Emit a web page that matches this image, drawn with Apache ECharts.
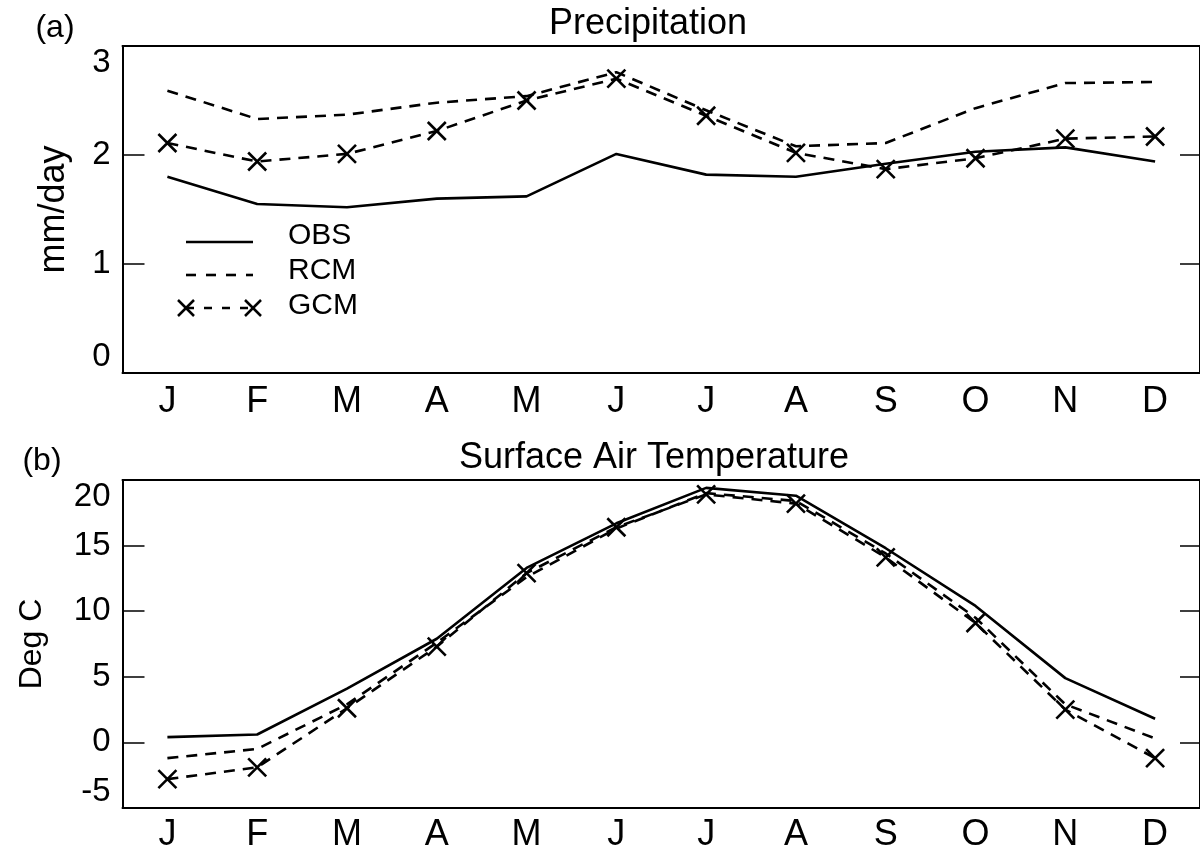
<!DOCTYPE html>
<html>
<head>
    <meta charset="utf-8">
    <title>Precipitation and Surface Air Temperature</title>
    <script src="https://cdn.jsdelivr.net/npm/echarts@6/dist/echarts.min.js"></script>
    <style>
        body { margin: 0; background: #fff; }
        #main { width: 1200px; height: 853px; }
    </style>
</head>
<body>
    <div id="main"></div>

<script type="text/javascript">

// months on the x axis
var months = ['Jan','Feb','Mar','Apr','May','Jun','Jul','Aug','Sep','Oct','Nov','Dec'];
var monthLetters = ['J','F','M','A','M','J','J','A','S','O','N','D'];

// (a) precipitation, mm/day
var precipObs = [1.80, 1.55, 1.52, 1.60, 1.62, 2.01, 1.82, 1.80, 1.92, 2.03, 2.07, 1.94];
var precipRcm = [2.59, 2.33, 2.37, 2.48, 2.54, 2.76, 2.41, 2.08, 2.11, 2.43, 2.66, 2.67];
var precipGcm = [2.11, 1.94, 2.01, 2.22, 2.50, 2.70, 2.36, 2.02, 1.87, 1.97, 2.15, 2.17];

// (b) surface air temperature, deg C
var tempObs = [0.4, 0.6, 4.1, 7.9, 13.3, 16.7, 19.4, 18.8, 14.8, 10.4, 4.9, 1.8];
var tempRcm = [-1.2, -0.5, 2.9, 7.6, 12.6, 16.3, 19.0, 18.4, 14.4, 9.5, 2.9, 0.3];
var tempGcm = [-2.8, -1.9, 2.6, 7.3, 12.9, 16.4, 18.9, 18.2, 14.1, 9.1, 2.5, -1.2];

// y axis ranges: [min, max, step]
var precipRange = [0, 3, 1];
var tempRange = [-5, 20, 5];

var FONT = 'Liberation Sans, Arial, Helvetica, sans-serif';
var crossMark = 'path://M0,0L10,10M10,0L0,10';

var myChart = echarts.init(document.getElementById('main'), null, {renderer: 'canvas'});

function xAxisPair(gridIndex, margin) {
    var base = {
        gridIndex: gridIndex,
        type: 'category',
        data: months,
        boundaryGap: true,
        axisLine: { onZero: false, lineStyle: { color: '#000', width: 2 } },
        axisTick: { inside: true, length: 7, alignWithLabel: true, lineStyle: { color: '#000', width: 1.5 } },
        splitLine: { show: false }
    };
    var bottom = Object.assign({}, base, {
        position: 'bottom',
        axisLabel: {
            color: '#000', fontSize: 36, fontFamily: FONT, margin: margin,
            formatter: function (v, i) { return monthLetters[i]; }
        }
    });
    var top = Object.assign({}, base, {
        position: 'top',
        axisLabel: { show: false }
    });
    return [bottom, top];
}

function yAxisPair(gridIndex, range, name, nameSize, nameGap) {
    var left = {
        gridIndex: gridIndex,
        type: 'value',
        position: 'left',
        min: range[0], max: range[1], interval: range[2],
        name: name,
        nameLocation: 'middle',
        nameGap: nameGap,
        nameTextStyle: { color: '#000', fontSize: nameSize, fontFamily: FONT },
        axisLine: { show: true, onZero: false, lineStyle: { color: '#000', width: 2 } },
        axisTick: { show: true, inside: true, length: 22, lineStyle: { color: '#000', width: 1.5 } },
        axisLabel: {
            color: '#000', fontSize: 33, fontFamily: FONT, margin: 12,
            verticalAlignMinLabel: 'bottom',
            verticalAlignMaxLabel: 'top'
        },
        splitLine: { show: false }
    };
    var right = {
        gridIndex: gridIndex,
        type: 'value',
        position: 'right',
        min: range[0], max: range[1], interval: range[2],
        axisLine: { show: true, onZero: false, lineStyle: { color: '#000', width: 2 } },
        axisTick: { show: true, inside: true, length: 20, lineStyle: { color: '#000', width: 1.5 } },
        axisLabel: { show: false },
        splitLine: { show: false }
    };
    return [left, right];
}

function threeLines(xi, yi, obs, rcm, gcm) {
    return [
        {
            name: 'OBS', type: 'line', xAxisIndex: xi, yAxisIndex: yi,
            data: obs, symbol: 'none',
            lineStyle: { color: '#000', width: 2.6, type: 'solid' }
        },
        {
            name: 'RCM', type: 'line', xAxisIndex: xi, yAxisIndex: yi,
            data: rcm, symbol: 'none',
            lineStyle: { color: '#000', width: 2.6, type: [11, 8] }
        },
        {
            name: 'GCM', type: 'line', xAxisIndex: xi, yAxisIndex: yi,
            data: gcm, symbol: crossMark, symbolSize: 18, showSymbol: true,
            itemStyle: { color: '#000', borderColor: '#000', borderWidth: 2.6 },
            lineStyle: { color: '#000', width: 2.6, type: [11, 8] }
        }
    ];
}

function crossGraphic(cx, cy, h) {
    return [
        { type: 'line', shape: { x1: cx - h, y1: cy - h, x2: cx + h, y2: cy + h }, style: { stroke: '#000', lineWidth: 2.5 } },
        { type: 'line', shape: { x1: cx + h, y1: cy - h, x2: cx - h, y2: cy + h }, style: { stroke: '#000', lineWidth: 2.5 } }
    ];
}

var legendGraphic = [
    { type: 'line', shape: { x1: 186, y1: 242, x2: 253, y2: 242 }, style: { stroke: '#000', lineWidth: 2.6 } },
    { type: 'line', shape: { x1: 186, y1: 275, x2: 253, y2: 275 }, style: { stroke: '#000', lineWidth: 2.6, lineDash: [10, 10] } },
    { type: 'line', shape: { x1: 186, y1: 308, x2: 253, y2: 308 }, style: { stroke: '#000', lineWidth: 2.6, lineDash: [8, 10] } },
    { type: 'text', x: 288, y: 236, style: { text: 'OBS', font: '30px ' + FONT, fill: '#000', verticalAlign: 'middle' } },
    { type: 'text', x: 288, y: 271, style: { text: 'RCM', font: '30px ' + FONT, fill: '#000', verticalAlign: 'middle' } },
    { type: 'text', x: 288, y: 306, style: { text: 'GCM', font: '30px ' + FONT, fill: '#000', verticalAlign: 'middle' } }
].concat(crossGraphic(186, 308, 8), crossGraphic(253, 308, 8));

var titleGraphic = [
    { type: 'text', x: 55, y: 28, style: { text: '(a)', font: '32px ' + FONT, fill: '#000', align: 'center', verticalAlign: 'middle' } },
    { type: 'text', x: 648, y: 24, style: { text: 'Precipitation', font: '36px ' + FONT, fill: '#000', align: 'center', verticalAlign: 'middle' } },
    { type: 'text', x: 42, y: 461, style: { text: '(b)', font: '32px ' + FONT, fill: '#000', align: 'center', verticalAlign: 'middle' } },
    { type: 'text', x: 654, y: 458, style: { text: 'Surface Air Temperature', font: '36px ' + FONT, fill: '#000', align: 'center', verticalAlign: 'middle' } }
];

myChart.setOption(
    option = {
        animation: false,
        backgroundColor: '#fff',
        grid: [
            { left: 122.5, top: 46, width: 1091, height: 327 },
            { left: 122.5, top: 480, width: 1091, height: 328.5 }
        ],
        xAxis: xAxisPair(0, 11).concat(xAxisPair(1, 9)),
        yAxis: yAxisPair(0, precipRange, 'mm/day', 36, 50).concat(yAxisPair(1, tempRange, 'Deg C', 32, 74)),
        series: threeLines(0, 0, precipObs, precipRcm, precipGcm)
            .concat(threeLines(2, 2, tempObs, tempRcm, tempGcm)),
        graphic: titleGraphic.concat(legendGraphic)
    });

</script>
</body>
</html>
